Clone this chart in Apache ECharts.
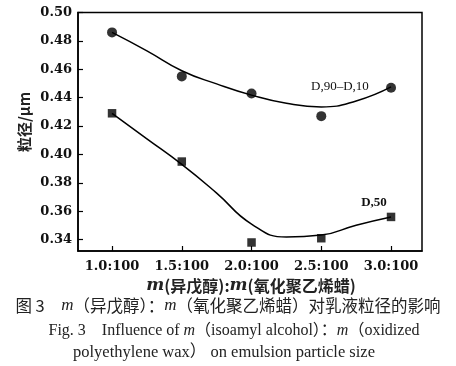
<!DOCTYPE html>
<html>
<head>
<meta charset="utf-8">
<script src="https://cdn.jsdelivr.net/npm/echarts@6/dist/echarts.min.js"></script>
<style>
html,body{margin:0;padding:0;background:#fff;}
#c{width:456px;height:366px;}
</style>
</head>
<body>
<div id="c"></div>
<script>
// Mass ratio m(isoamyl alcohol):m(oxidized PE wax), x:100
var ratios = [1.0, 1.5, 2.0, 2.5, 3.0];
var xTickValues = [1.0, 1.5, 2.0, 2.5, 3.0];
var yTickValues = [0.34, 0.36, 0.38, 0.40, 0.42, 0.44, 0.46, 0.48, 0.50];
// Measured points
var span9010 = [0.486, 0.455, 0.443, 0.427, 0.447];   // D,90-D,10 (circles)
var d50 = [0.429, 0.395, 0.338, 0.341, 0.356];        // D,50 (squares)
// Fitted trend curves
var fitX = [1.0, 1.25, 1.5, 1.75, 2.0, 2.25, 2.5, 2.75, 3.0];
var fit9010 = [0.486, 0.473, 0.459, 0.4497, 0.4418, 0.436, 0.4335, 0.4377, 0.4476];
var fit50 = [0.429, 0.411, 0.393, 0.3728, 0.351, 0.3418, 0.3432, 0.3502, 0.356];
// Series labels (data coordinates)
var label9010 = {text: 'D,90–D,10', x: 2.634, y: 0.448};
var label50 = {text: 'D,50', x: 2.878, y: 0.366};

function zip(a, b) { return a.map(function (v, i) { return [v, b[i]]; }); }

var chart = echarts.init(document.getElementById('c'), null, {renderer: 'canvas'});
var serif = '"DejaVu Serif", "Liberation Serif", serif';
var option = {
  backgroundColor: '#ffffff',
  animation: false,
  grid: {left: 78, top: 12.5, right: 34, bottom: 115, show: true, borderColor: '#000', borderWidth: 1.5},
  xAxis: {
    type: 'value', min: 0.756, max: 3.222,
    axisLine: {show: true, lineStyle: {color: '#000', width: 1.5}},
    axisTick: {show: true, inside: true, length: 5, customValues: xTickValues, lineStyle: {color: '#000', width: 1.2}},
    axisLabel: {customValues: xTickValues, margin: 9, color: '#111', fontFamily: serif, fontSize: 13, fontWeight: 'bold',
      formatter: function (v) { return v.toFixed(1) + ':100'; }},
    splitLine: {show: false}
  },
  yAxis: {
    type: 'value', min: 0.332, max: 0.5,
    axisLine: {show: true, lineStyle: {color: '#000', width: 1.5}},
    axisTick: {show: true, inside: true, length: 5, customValues: yTickValues, lineStyle: {color: '#000', width: 1.2}},
    axisLabel: {customValues: yTickValues, margin: 6, color: '#111', fontFamily: serif, fontSize: 13, fontWeight: 'bold',
      formatter: function (v) { return v.toFixed(2); }},
    splitLine: {show: false}
  },
  series: [
    {type: 'line', data: zip(fitX, fit9010), smooth: 0.5, showSymbol: false, symbol: 'none',
      lineStyle: {color: '#000', width: 1.5}, z: 2},
    {type: 'line', data: zip(fitX, fit50), smooth: 0.5, showSymbol: false, symbol: 'none',
      lineStyle: {color: '#000', width: 1.5}, z: 2},
    {type: 'scatter', data: zip(ratios, span9010), symbol: 'circle', symbolSize: 10,
      itemStyle: {color: '#000'}, z: 3},
    {type: 'scatter', data: zip(ratios, d50), symbol: 'rect', symbolSize: 8.5,
      itemStyle: {color: '#000'}, z: 3}
  ]
};
chart.setOption(option);

var p1 = chart.convertToPixel({gridIndex: 0}, [label9010.x, label9010.y]);
var p2 = chart.convertToPixel({gridIndex: 0}, [label50.x, label50.y]);

chart.setOption({
  graphic: [
    {type: 'text', x: p1[0], y: p1[1], style: {text: label9010.text, font: '13px "Liberation Serif", serif', fill: '#111', align: 'center', verticalAlign: 'middle'}},
    {type: 'text', x: p2[0], y: p2[1], style: {text: label50.text, font: 'bold 13px "Liberation Serif", serif', fill: '#111', align: 'center', verticalAlign: 'middle'}},
    {type: 'text', x: 24, y: 122, rotation: Math.PI / 2,
      style: {text: '粒径/μm', font: 'bold 15px "Noto Sans CJK SC", sans-serif', fill: '#222', align: 'center', verticalAlign: 'middle'}},
    {type: 'text', x: 251, y: 286,
      style: {text: '{i|m}(异戊醇):{i|m}(氧化聚乙烯蜡)', fill: '#222', align: 'center', verticalAlign: 'middle',
        font: 'bold 16px "Noto Sans CJK SC", sans-serif',
        rich: {i: {font: 'italic bold 17px "DejaVu Serif", serif', fill: '#222'}}}},
    {type: 'text', x: 228, y: 306,
      style: {text: '图 3　{i|m}（异戊醇）：{i|m}（氧化聚乙烯蜡）对乳液粒径的影响', fill: '#222', align: 'center', verticalAlign: 'middle',
        font: '16.5px "Noto Sans CJK SC", sans-serif',
        rich: {i: {font: 'italic 17px "Liberation Serif", serif', fill: '#222'}}}},
    {type: 'text', x: 234, y: 331,
      style: {text: 'Fig. 3　Influence of {i|m}（isoamyl alcohol）：{i|m}（oxidized', fill: '#222', align: 'center', verticalAlign: 'middle',
        font: '16px "Liberation Serif", "Noto Sans CJK SC", serif',
        rich: {i: {font: 'italic 16px "Liberation Serif", serif', fill: '#222'}}}},
    {type: 'text', x: 224, y: 353,
      style: {text: 'polyethylene wax） on emulsion particle size', fill: '#222', align: 'center', verticalAlign: 'middle',
        font: '16.5px "Liberation Serif", "Noto Sans CJK SC", serif'}}
  ]
});
</script>
</body>
</html>
